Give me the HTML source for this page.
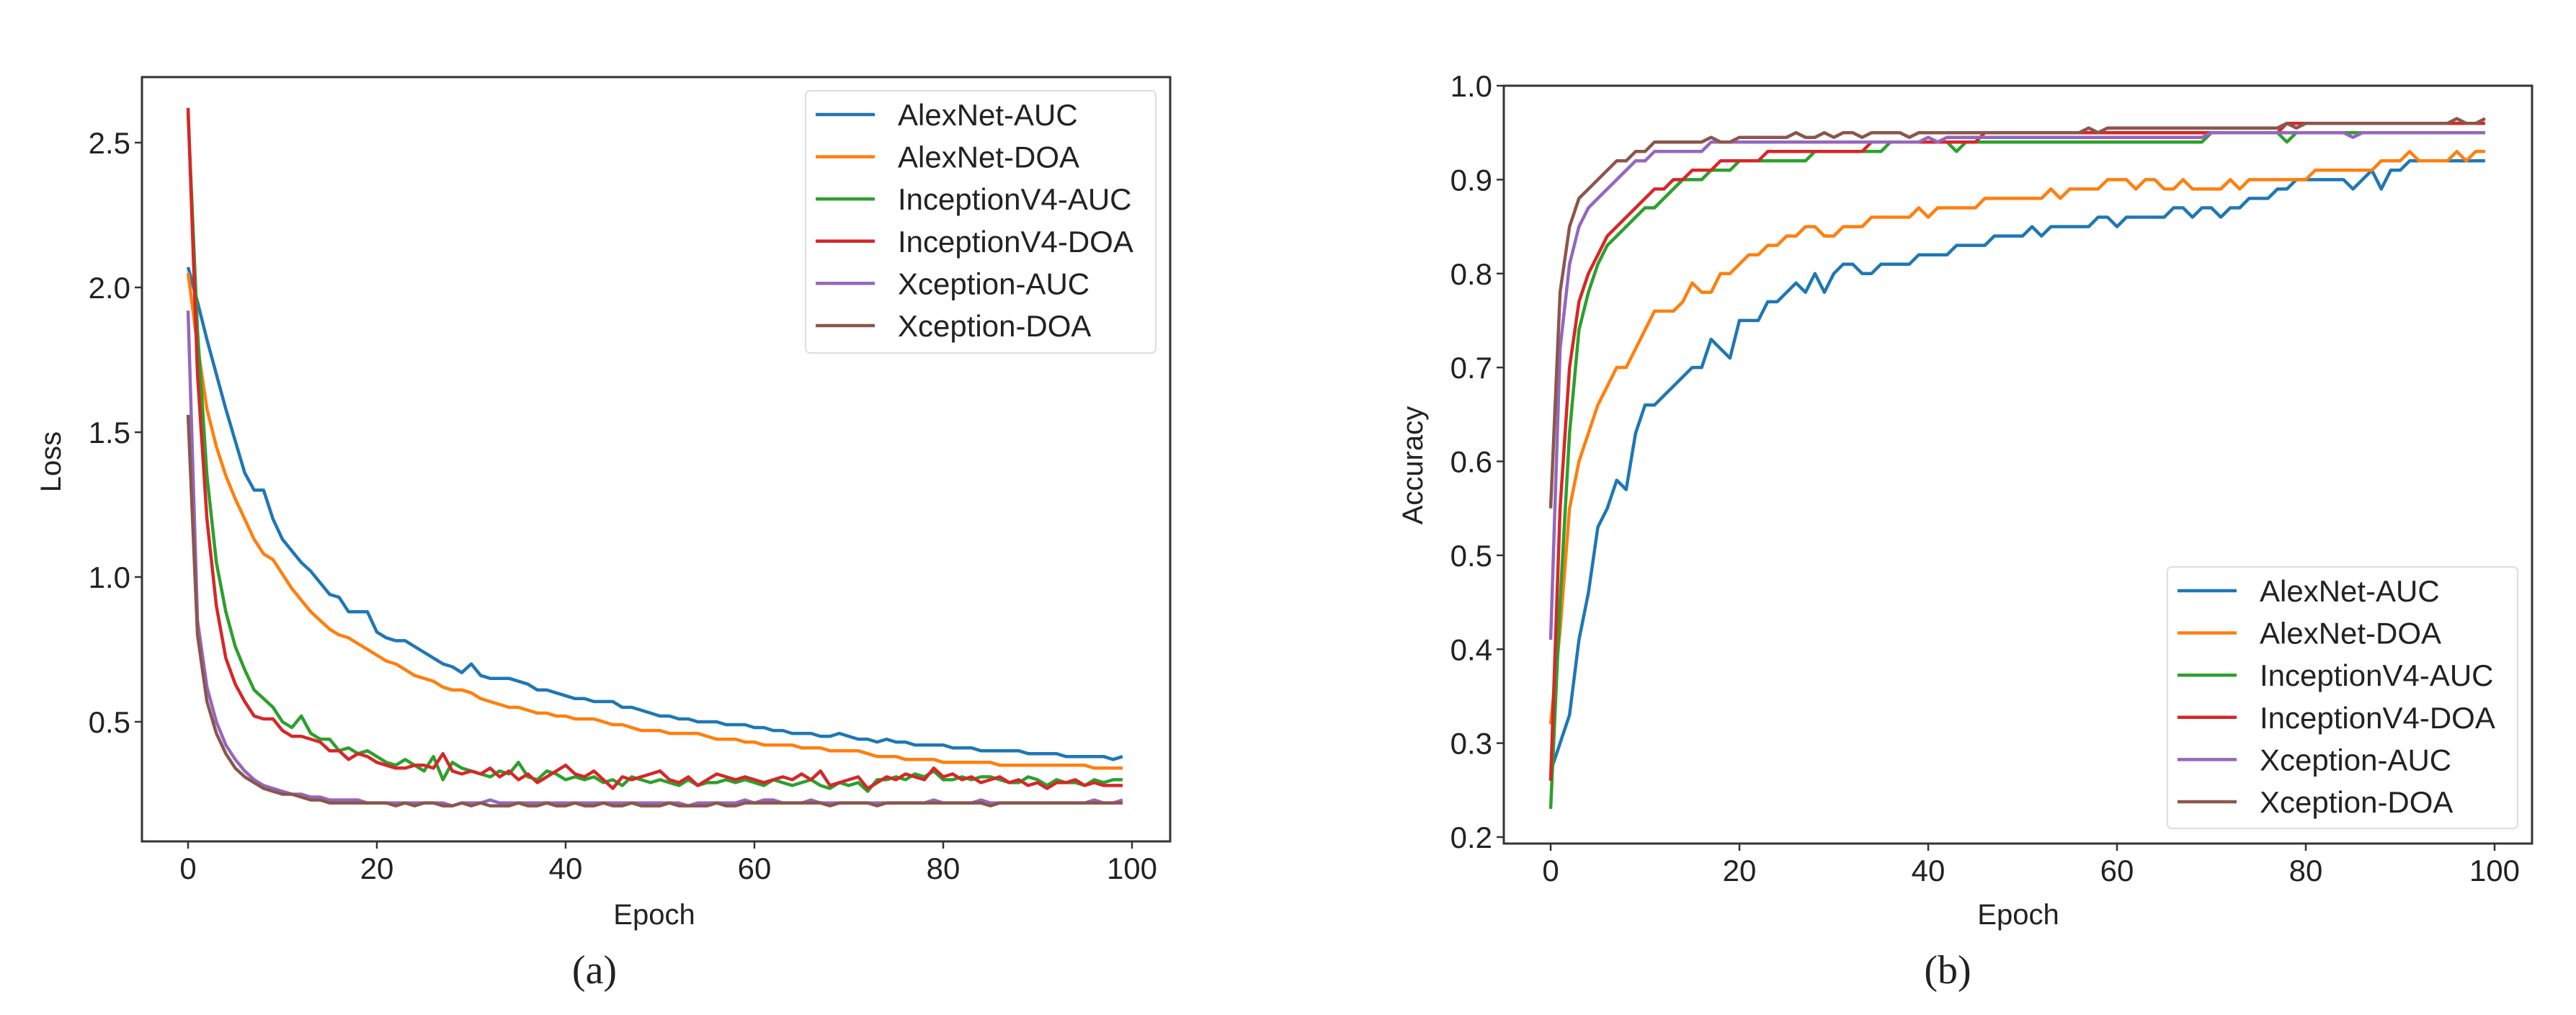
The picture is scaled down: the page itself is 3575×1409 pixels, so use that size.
<!DOCTYPE html>
<html><head><meta charset="utf-8"><style>
html,body{margin:0;padding:0;background:#fff;width:3575px;height:1409px;overflow:hidden}
svg text{font-family:"Liberation Sans",sans-serif;fill:#222}
</style></head><body>
<svg id="fig" width="3575" height="1409" xmlns="http://www.w3.org/2000/svg"></svg>
<script>
const epochs = Array.from({length:100},(_,i)=>i);
const seriesNames = ["AlexNet-AUC","AlexNet-DOA","InceptionV4-AUC","InceptionV4-DOA","Xception-AUC","Xception-DOA"];
const colors = ["#1f77b4","#ff7f0e","#2ca02c","#d62728","#9467bd","#8c564b"];

const lossAlexAUC=[2.07,1.95,1.82,1.70,1.58,1.47,1.36,1.30,1.30,1.20,
1.13,1.09,1.05,1.02,0.98,0.94,0.93,0.88,0.88,0.88,
0.81,0.79,0.78,0.78,0.76,0.74,0.72,0.70,0.69,0.67,
0.70,0.66,0.65,0.65,0.65,0.64,0.63,0.61,0.61,0.60,
0.59,0.58,0.58,0.57,0.57,0.57,0.55,0.55,0.54,0.53,
0.52,0.52,0.51,0.51,0.50,0.50,0.50,0.49,0.49,0.49,
0.48,0.48,0.47,0.47,0.46,0.46,0.46,0.45,0.45,0.46,
0.45,0.44,0.44,0.43,0.44,0.43,0.43,0.42,0.42,0.42,
0.42,0.41,0.41,0.41,0.40,0.40,0.40,0.40,0.40,0.39,
0.39,0.39,0.39,0.38,0.38,0.38,0.38,0.38,0.37,0.38];
const lossAlexDOA=[2.05,1.80,1.58,1.45,1.35,1.27,1.20,1.13,1.08,1.06,
1.01,0.96,0.92,0.88,0.85,0.82,0.80,0.79,0.77,0.75,
0.73,0.71,0.70,0.68,0.66,0.65,0.64,0.62,0.61,0.61,
0.60,0.58,0.57,0.56,0.55,0.55,0.54,0.53,0.53,0.52,
0.52,0.51,0.51,0.51,0.50,0.49,0.49,0.48,0.47,0.47,
0.47,0.46,0.46,0.46,0.46,0.45,0.44,0.44,0.44,0.43,
0.43,0.42,0.42,0.42,0.42,0.41,0.41,0.41,0.40,0.40,
0.40,0.40,0.39,0.38,0.38,0.38,0.37,0.37,0.37,0.37,
0.36,0.36,0.36,0.36,0.36,0.36,0.35,0.35,0.35,0.35,
0.35,0.35,0.35,0.35,0.35,0.35,0.34,0.34,0.34,0.34];
const lossIncAUC=[2.60,1.85,1.35,1.05,0.88,0.76,0.68,0.61,0.58,0.55,
0.50,0.48,0.52,0.46,0.44,0.44,0.40,0.41,0.39,0.40,
0.38,0.36,0.35,0.37,0.35,0.33,0.38,0.30,0.36,0.34,
0.33,0.32,0.31,0.33,0.32,0.36,0.31,0.30,0.33,0.32,
0.30,0.31,0.30,0.31,0.29,0.30,0.28,0.31,0.30,0.29,
0.30,0.29,0.28,0.30,0.28,0.29,0.29,0.30,0.29,0.30,
0.29,0.28,0.30,0.29,0.28,0.29,0.30,0.28,0.27,0.29,
0.28,0.29,0.26,0.30,0.30,0.31,0.30,0.32,0.31,0.33,
0.30,0.30,0.31,0.30,0.31,0.31,0.30,0.29,0.29,0.31,
0.30,0.28,0.30,0.29,0.29,0.28,0.30,0.29,0.30,0.30];
const lossIncDOA=[2.62,1.70,1.20,0.90,0.72,0.63,0.57,0.52,0.51,0.51,
0.47,0.45,0.45,0.44,0.43,0.40,0.40,0.37,0.39,0.38,
0.36,0.35,0.34,0.34,0.35,0.35,0.34,0.39,0.33,0.32,
0.33,0.32,0.34,0.31,0.33,0.30,0.32,0.29,0.31,0.33,
0.35,0.32,0.31,0.33,0.30,0.27,0.31,0.30,0.31,0.32,
0.33,0.30,0.29,0.31,0.28,0.30,0.32,0.31,0.30,0.31,
0.30,0.29,0.30,0.31,0.30,0.32,0.30,0.33,0.28,0.29,
0.30,0.31,0.27,0.29,0.31,0.30,0.32,0.31,0.30,0.34,
0.31,0.32,0.30,0.31,0.29,0.30,0.31,0.29,0.30,0.28,
0.29,0.27,0.29,0.29,0.30,0.28,0.29,0.28,0.28,0.28];
const lossXcAUC=[1.92,0.85,0.62,0.50,0.42,0.37,0.33,0.30,0.28,0.27,
0.26,0.25,0.25,0.24,0.24,0.23,0.23,0.23,0.23,0.22,
0.22,0.22,0.22,0.22,0.22,0.22,0.22,0.22,0.21,0.22,
0.22,0.22,0.23,0.22,0.22,0.22,0.22,0.22,0.22,0.22,
0.22,0.22,0.22,0.22,0.22,0.22,0.22,0.22,0.22,0.22,
0.22,0.22,0.22,0.21,0.22,0.22,0.22,0.22,0.22,0.23,
0.22,0.23,0.23,0.22,0.22,0.22,0.23,0.22,0.22,0.22,
0.22,0.22,0.22,0.22,0.22,0.22,0.22,0.22,0.22,0.23,
0.22,0.22,0.22,0.22,0.23,0.22,0.22,0.22,0.22,0.22,
0.22,0.22,0.22,0.22,0.22,0.22,0.23,0.22,0.22,0.23];
const lossXcDOA=[1.56,0.80,0.57,0.46,0.39,0.34,0.31,0.29,0.27,0.26,
0.25,0.25,0.24,0.23,0.23,0.22,0.22,0.22,0.22,0.22,
0.22,0.22,0.21,0.22,0.21,0.22,0.22,0.21,0.21,0.22,
0.21,0.22,0.21,0.21,0.21,0.22,0.21,0.21,0.22,0.21,
0.21,0.22,0.21,0.21,0.22,0.21,0.21,0.22,0.21,0.21,
0.21,0.22,0.21,0.21,0.21,0.21,0.22,0.21,0.21,0.22,
0.22,0.22,0.22,0.22,0.22,0.22,0.22,0.22,0.21,0.22,
0.22,0.22,0.22,0.21,0.22,0.22,0.22,0.22,0.22,0.22,
0.22,0.22,0.22,0.22,0.22,0.21,0.22,0.22,0.22,0.22,
0.22,0.22,0.22,0.22,0.22,0.22,0.22,0.22,0.22,0.22];

const accAlexAUC=[0.27,0.30,0.33,0.41,0.46,0.53,0.55,0.58,0.57,0.63,
0.66,0.66,0.67,0.68,0.69,0.70,0.70,0.73,0.72,0.71,
0.75,0.75,0.75,0.77,0.77,0.78,0.79,0.78,0.80,0.78,
0.80,0.81,0.81,0.80,0.80,0.81,0.81,0.81,0.81,0.82,
0.82,0.82,0.82,0.83,0.83,0.83,0.83,0.84,0.84,0.84,
0.84,0.85,0.84,0.85,0.85,0.85,0.85,0.85,0.86,0.86,
0.85,0.86,0.86,0.86,0.86,0.86,0.87,0.87,0.86,0.87,
0.87,0.86,0.87,0.87,0.88,0.88,0.88,0.89,0.89,0.90,
0.90,0.90,0.90,0.90,0.90,0.89,0.90,0.91,0.89,0.91,
0.91,0.92,0.92,0.92,0.92,0.92,0.92,0.92,0.92,0.92];
const accAlexDOA=[0.32,0.42,0.55,0.60,0.63,0.66,0.68,0.70,0.70,0.72,
0.74,0.76,0.76,0.76,0.77,0.79,0.78,0.78,0.80,0.80,
0.81,0.82,0.82,0.83,0.83,0.84,0.84,0.85,0.85,0.84,
0.84,0.85,0.85,0.85,0.86,0.86,0.86,0.86,0.86,0.87,
0.86,0.87,0.87,0.87,0.87,0.87,0.88,0.88,0.88,0.88,
0.88,0.88,0.88,0.89,0.88,0.89,0.89,0.89,0.89,0.90,
0.90,0.90,0.89,0.90,0.90,0.89,0.89,0.90,0.89,0.89,
0.89,0.89,0.90,0.89,0.90,0.90,0.90,0.90,0.90,0.90,
0.90,0.91,0.91,0.91,0.91,0.91,0.91,0.91,0.92,0.92,
0.92,0.93,0.92,0.92,0.92,0.92,0.93,0.92,0.93,0.93];
const accIncAUC=[0.23,0.45,0.63,0.74,0.78,0.81,0.83,0.84,0.85,0.86,
0.87,0.87,0.88,0.89,0.90,0.90,0.90,0.91,0.91,0.91,
0.92,0.92,0.92,0.92,0.92,0.92,0.92,0.92,0.93,0.93,
0.93,0.93,0.93,0.93,0.93,0.93,0.94,0.94,0.94,0.94,
0.94,0.94,0.94,0.93,0.94,0.94,0.94,0.94,0.94,0.94,
0.94,0.94,0.94,0.94,0.94,0.94,0.94,0.94,0.94,0.94,
0.94,0.94,0.94,0.94,0.94,0.94,0.94,0.94,0.94,0.94,
0.95,0.95,0.95,0.95,0.95,0.95,0.95,0.95,0.94,0.95,
0.95,0.95,0.95,0.95,0.95,0.95,0.95,0.95,0.95,0.95,
0.95,0.95,0.95,0.95,0.95,0.95,0.95,0.95,0.95,0.95];
const accIncDOA=[0.26,0.55,0.70,0.77,0.80,0.82,0.84,0.85,0.86,0.87,
0.88,0.89,0.89,0.90,0.90,0.91,0.91,0.91,0.92,0.92,
0.92,0.92,0.92,0.93,0.93,0.93,0.93,0.93,0.93,0.93,
0.93,0.93,0.93,0.93,0.94,0.94,0.94,0.94,0.94,0.94,
0.94,0.94,0.94,0.94,0.94,0.94,0.95,0.95,0.95,0.95,
0.95,0.95,0.95,0.95,0.95,0.95,0.95,0.95,0.95,0.95,
0.95,0.95,0.95,0.95,0.95,0.95,0.95,0.95,0.95,0.95,
0.95,0.95,0.95,0.95,0.95,0.95,0.95,0.95,0.96,0.96,
0.96,0.96,0.96,0.96,0.96,0.96,0.96,0.96,0.96,0.96,
0.96,0.96,0.96,0.96,0.96,0.96,0.96,0.96,0.96,0.96];
const accXcAUC=[0.41,0.72,0.81,0.85,0.87,0.88,0.89,0.90,0.91,0.92,
0.92,0.93,0.93,0.93,0.93,0.93,0.93,0.94,0.94,0.94,
0.94,0.94,0.94,0.94,0.94,0.94,0.94,0.94,0.94,0.94,
0.94,0.94,0.94,0.94,0.94,0.94,0.94,0.94,0.94,0.94,
0.945,0.94,0.945,0.945,0.945,0.945,0.945,0.945,0.945,0.945,
0.945,0.945,0.945,0.945,0.945,0.945,0.945,0.945,0.945,0.945,
0.945,0.945,0.945,0.945,0.945,0.945,0.945,0.945,0.945,0.945,
0.95,0.95,0.95,0.95,0.95,0.95,0.95,0.95,0.95,0.95,
0.95,0.95,0.95,0.95,0.95,0.945,0.95,0.95,0.95,0.95,
0.95,0.95,0.95,0.95,0.95,0.95,0.95,0.95,0.95,0.95];
const accXcDOA=[0.55,0.78,0.85,0.88,0.89,0.90,0.91,0.92,0.92,0.93,
0.93,0.94,0.94,0.94,0.94,0.94,0.94,0.945,0.94,0.94,
0.945,0.945,0.945,0.945,0.945,0.945,0.95,0.945,0.945,0.95,
0.945,0.95,0.95,0.945,0.95,0.95,0.95,0.95,0.945,0.95,
0.95,0.95,0.95,0.95,0.95,0.95,0.95,0.95,0.95,0.95,
0.95,0.95,0.95,0.95,0.95,0.95,0.95,0.955,0.95,0.955,
0.955,0.955,0.955,0.955,0.955,0.955,0.955,0.955,0.955,0.955,
0.955,0.955,0.955,0.955,0.955,0.955,0.955,0.955,0.96,0.955,
0.96,0.96,0.96,0.96,0.96,0.96,0.96,0.96,0.96,0.96,
0.96,0.96,0.96,0.96,0.96,0.96,0.965,0.96,0.96,0.965];

const lossSeries=[lossAlexAUC,lossAlexDOA,lossIncAUC,lossIncDOA,lossXcAUC,lossXcDOA];
const accSeries=[accAlexAUC,accAlexDOA,accIncAUC,accIncDOA,accXcAUC,accXcDOA];
const xTicks=[0,20,40,60,80,100];
const lossTicks=[0.5,1.0,1.5,2.0,2.5];
const accTicks=[0.2,0.3,0.4,0.5,0.6,0.7,0.8,0.9,1.0];

const NS="http://www.w3.org/2000/svg";
const svg=document.getElementById('fig');
function mk(tag,attrs,parent){const e=document.createElementNS(NS,tag);for(const k in attrs)e.setAttribute(k,attrs[k]);(parent||svg).appendChild(e);return e;}

function chart(cfg){
  const g=mk('g',{});
  
  
  const xs=v=>cfg.x0+(v-0)*(cfg.x100-cfg.x0)/100;
  const ys=v=>cfg.yA+(v-cfg.vA)*(cfg.yB-cfg.yA)/(cfg.vB-cfg.vA);
  // series
  cfg.series.forEach((arr,si)=>{
    const pts=arr.map((v,i)=>xs(epochs[i]).toFixed(1)+','+ys(v).toFixed(1)).join(' ');
    const pl=mk('polyline',{points:pts,fill:'none',stroke:colors[si],'stroke-width':4.5,'stroke-linejoin':'round'},g);
    
    
  });
  // frame
  const fr=mk('rect',{x:cfg.L,y:cfg.T,width:cfg.R-cfg.L,height:cfg.B-cfg.T,fill:'none',stroke:'#333','stroke-width':3},g);
  
  
  // x ticks
  xTicks.forEach(t=>{
    const x=xs(t);
    mk('line',{x1:x,y1:cfg.B,x2:x,y2:cfg.B+10,stroke:'#333','stroke-width':2.5},g);
    const tx=mk('text',{x:x,y:cfg.B+52,'text-anchor':'middle','font-size':42},g);
    tx.textContent=t;
    
    
  });
  cfg.yTicks.forEach(t=>{
    const y=ys(t);
    mk('line',{x1:cfg.L-10,y1:y,x2:cfg.L,y2:y,stroke:'#333','stroke-width':2.5},g);
    const tx=mk('text',{x:cfg.L-16,y:y+15,'text-anchor':'end','font-size':42},g);
    tx.textContent=t.toFixed(1);
    
    
  });
  const xt=mk('text',{x:cfg.xtX,y:1283,'text-anchor':'middle','font-size':40},g);
  xt.textContent='Epoch';
  
  
  const yt=mk('text',{x:cfg.ytX,y:cfg.ytY,'text-anchor':'middle','font-size':40,transform:`rotate(-90 ${cfg.ytX} ${cfg.ytY})`},g);
  yt.textContent=cfg.ytitle;
  
  
  // legend
  const lg=mk('g',{},g);
  
  
  mk('rect',{x:cfg.lgX,y:cfg.lgY,width:cfg.lgW,height:cfg.lgH,rx:6,fill:'#fff','fill-opacity':0.85,stroke:'#ddd','stroke-width':2},lg);
  seriesNames.forEach((n,i)=>{
    const y=cfg.lgY+33+i*58.6;
    mk('line',{x1:cfg.lgX+14,y1:y,x2:cfg.lgX+96,y2:y,stroke:colors[i],'stroke-width':4.5},lg);
    const tx=mk('text',{x:cfg.lgX+128,y:y+15,'font-size':42},lg);
    tx.textContent=n;
    
    
  });
  const cap=mk('text',{x:cfg.capX,y:1365,'text-anchor':'middle','font-size':56,style:'font-family:"Liberation Serif",serif'},g);
  cap.textContent=cfg.cap;
  
  
}

chart({name:'loss-chart',L:197,R:1624,T:107,B:1168,x0:261,x100:1571,vA:0.5,yA:1002,vB:2.5,yB:198,
  series:lossSeries,yTicks:lossTicks,ytitle:'Loss',ytX:84,ytY:641,xtX:908,
  lgX:1118,lgY:126,lgW:486,lgH:364,cap:'(a)',capX:825});
chart({name:'accuracy-chart',L:2087,R:3514,T:119,B:1171,x0:2152,x100:3462,vA:1.0,yA:119,vB:0.2,yB:1162,
  series:accSeries,yTicks:accTicks,ytitle:'Accuracy',ytX:1974,ytY:646,xtX:2801,
  lgX:3008,lgY:787,lgW:486,lgH:363,cap:'(b)',capX:2703});
</script>
</body></html>
